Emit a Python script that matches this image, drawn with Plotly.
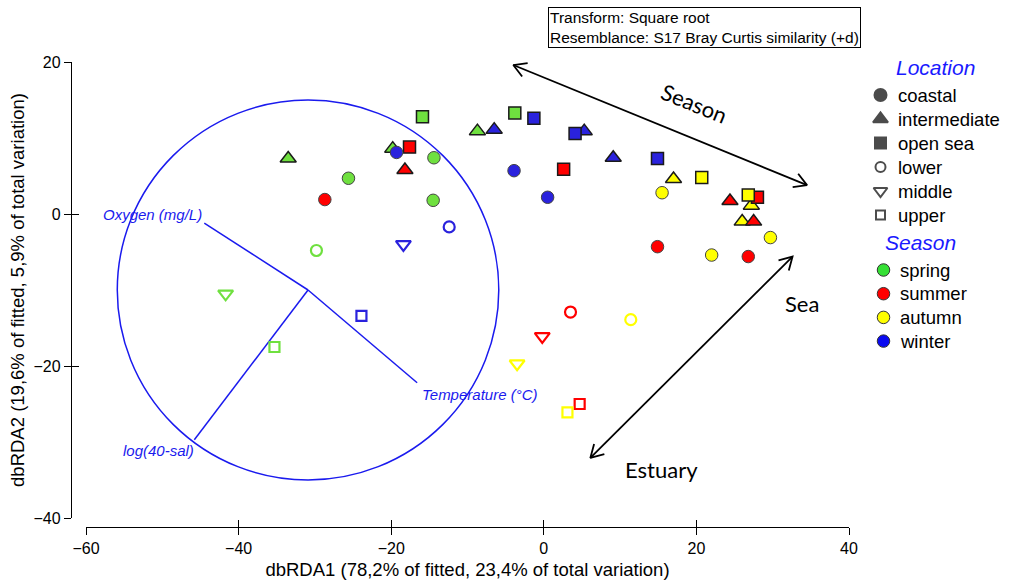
import math
import plotly.graph_objects as go

# ---------------- data ----------------
season_colors = {"spring": "#6FE03F", "summer": "#FF0000", "autumn": "#FFFF00", "winter": "#2A22DD"}
legend_season_colors = {"spring": "#35E035", "summer": "#FF0000", "autumn": "#FFFF00", "winter": "#0A0AF0"}

# intermediate (filled triangles)
inter_x = [-33.5, -19.8, -18.2, -8.7, -6.5, 5.3, 9.1, 17.0, 24.4, 26.0, 27.5, 27.2]
inter_y = [7.3, 8.6, 5.8, 10.9, 11.1, 10.9, 7.4, 4.6, 1.7, -1.0, -1.0, 1.1]
inter_s = ["spring", "spring", "summer", "spring", "winter", "winter", "winter", "autumn",
           "summer", "autumn", "summer", "autumn"]

# open sea (filled squares)
opensea_x = [-15.9, -3.8, -1.3, -17.6, 4.1, 14.9, 2.6, 20.7, 28.0, 26.8]
opensea_y = [12.8, 13.3, 12.6, 8.8, 10.6, 7.3, 5.9, 4.8, 2.2, 2.5]
opensea_s = ["spring", "spring", "winter", "summer", "winter", "winter", "summer", "autumn",
             "summer", "autumn"]

# coastal (filled circles)
coastal_x = [-25.6, -14.4, -28.7, -14.5, -19.3, -3.9, 0.5, 15.5, 14.9, 22.0, 26.8, 29.7]
coastal_y = [4.7, 7.4, 1.9, 1.8, 8.1, 5.7, 2.2, 2.8, -4.3, -5.4, -5.6, -3.1]
coastal_s = ["spring", "spring", "summer", "spring", "winter", "winter", "winter", "autumn",
             "summer", "autumn", "summer", "autumn"]

# lower (open circles)
lower_x = [-29.8, -12.4, 3.5, 11.4]
lower_y = [-4.8, -1.7, -12.9, -13.9]
lower_s = ["spring", "winter", "summer", "autumn"]

# middle (open down triangles)
middle_x = [-41.7, -18.4, -0.2, -3.5]
middle_y = [-10.5, -4.0, -16.1, -19.7]
middle_s = ["spring", "winter", "summer", "autumn"]

# upper (open squares)
upper_x = [-35.3, -23.9, 4.7, 3.1]
upper_y = [-17.5, -13.4, -25.0, -26.1]
upper_s = ["spring", "winter", "summer", "autumn"]

# environmental vectors (dbRDA overlay)
vector_origin = (-30.9, -10.0)
circle_radius = 25.0
vector_names = ["Oxygen (mg/L)", "Temperature (°C)", "log(40-sal)"]
vector_end_x = [-44.5, -16.6, -45.8]
vector_end_y = [-1.2, -22.2, -29.7]
vector_label_x = [-44.6, -16.2, -45.6]
vector_label_y = [-0.1, -23.8, -31.1]
vector_label_anchor = ["right", "left", "right"]

# interpretation arrows
season_arrow = [(-4.0, 19.6), (34.5, 3.8)]
estuary_arrow = [(6.1, -32.1), (32.6, -5.6)]
arrow_labels = ["Season", "Sea", "Estuary"]
arrow_label_x = [19.8, 33.8, 15.4]
arrow_label_y = [14.6, -11.75, -33.6]
arrow_label_angle = [22, 0, 0]

x_ticks = [-60, -40, -20, 0, 20, 40]
y_ticks = [-40, -20, 0, 20]

location_names = ["coastal", "intermediate", "open sea", "lower", "middle", "upper"]
season_names = ["spring", "summer", "autumn", "winter"]

# ---------------- figure ----------------
W, H = 1014, 584
ML, MR, MT, MB = 71, 10, 5, 57
PW, PH = W - ML - MR, H - MT - MB
X0PX, X1PX = 86, 849
Y0PX, Y1PX = 518, 62
xdom = [(X0PX - ML) / PW, (X1PX - ML) / PW]
ydom = [(H - MB - Y0PX) / PH, (H - MB - Y1PX) / PH]

BLUE = "#1A1AEE"
FONT = "Liberation Sans, Arial"
fig = go.Figure()

# vector lines
vx, vy = [], []
for ex, ey in zip(vector_end_x, vector_end_y):
    vx += [vector_origin[0], ex, None]
    vy += [vector_origin[1], ey, None]
fig.add_trace(go.Scatter(x=vx, y=vy, mode="lines", line=dict(color=BLUE, width=1.5),
                         hoverinfo="skip", showlegend=False))


def double_arrow(p0, p1, arm=1.9, ang=30):
    xs = [p0[0], p1[0], None]
    ys = [p0[1], p1[1], None]
    for tip, tail in ((p0, p1), (p1, p0)):
        dx, dy = tail[0] - tip[0], tail[1] - tip[1]
        L = math.hypot(dx, dy)
        ux, uy = dx / L, dy / L
        pts = []
        for s in (1, -1):
            a = math.radians(ang * s)
            rx = ux * math.cos(a) - uy * math.sin(a)
            ry = ux * math.sin(a) + uy * math.cos(a)
            pts.append((tip[0] + arm * rx, tip[1] + arm * ry))
        xs += [pts[0][0], tip[0], pts[1][0], None]
        ys += [pts[0][1], tip[1], pts[1][1], None]
    return xs, ys


for arr in (season_arrow, estuary_arrow):
    ax_, ay_ = double_arrow(arr[0], arr[1])
    fig.add_trace(go.Scatter(x=ax_, y=ay_, mode="lines", line=dict(color="black", width=1.8),
                             hoverinfo="skip", showlegend=False))

# sample points
filled = [
    (inter_x, inter_y, inter_s, "triangle-up", 14, "#1A1A1A", 1.5),
    (opensea_x, opensea_y, opensea_s, "square", 12, "#1A1A1A", 1.5),
    (coastal_x, coastal_y, coastal_s, "circle", 12.5, "#444444", 1),
]
for xs, ys, ss, sym, size, lc, lw in filled:
    fig.add_trace(go.Scatter(
        x=xs, y=ys, mode="markers", showlegend=False, cliponaxis=False,
        marker=dict(symbol=sym, size=size, color=[season_colors[s] for s in ss],
                    line=dict(color=lc, width=lw))))

opened = [
    (lower_x, lower_y, lower_s, "circle-open", 11),
    (middle_x, middle_y, middle_s, "triangle-down-open", 13),
    (upper_x, upper_y, upper_s, "square-open", 10),
]
for xs, ys, ss, sym, size in opened:
    fig.add_trace(go.Scatter(
        x=xs, y=ys, mode="markers", showlegend=False, cliponaxis=False,
        marker=dict(symbol=sym, size=size, color=[season_colors[s] for s in ss],
                    line=dict(width=2.2))))

# invisible traces for the inner-tick overlay axes
fig.add_trace(go.Scatter(x=[None], y=[None], xaxis="x2", yaxis="y", showlegend=False, hoverinfo="skip"))
fig.add_trace(go.Scatter(x=[None], y=[None], xaxis="x", yaxis="y2", showlegend=False, hoverinfo="skip"))

# ---------------- custom legend (helper axes in pixel units) ----------------
loc_symbols = ["circle", "triangle-up", "square", "circle-open", "triangle-down-open", "square-open"]
loc_sizes = [12, 13, 11, 10, 12, 9]
loc_y = [95 + 24 * i for i in range(len(location_names))]
fig.add_trace(go.Scatter(
    x=[880.5] * len(location_names), y=loc_y, xaxis="x3", yaxis="y3", mode="markers",
    showlegend=False, hoverinfo="skip", cliponaxis=False,
    marker=dict(symbol=loc_symbols, size=loc_sizes, color="black", line=dict(color="black", width=2))))
sea_y = [270 + 23.7 * i for i in range(len(season_names))]
fig.add_trace(go.Scatter(
    x=[883.5] * len(season_names), y=sea_y, xaxis="x3", yaxis="y3", mode="markers",
    showlegend=False, hoverinfo="skip", cliponaxis=False,
    marker=dict(symbol="circle", size=12.5, color=[legend_season_colors[s] for s in season_names],
                line=dict(color="#333333", width=1))))

annotations = []
for name, yy in zip(location_names, loc_y):
    annotations.append(dict(x=896, y=yy, xref="x3", yref="y3", text=name, showarrow=False,
                            xanchor="left", yanchor="middle",
                            font=dict(size=18.5, color="black", family=FONT)))
for name, yy in zip(season_names, sea_y):
    annotations.append(dict(x=898, y=yy, xref="x3", yref="y3", text=name, showarrow=False,
                            xanchor="left", yanchor="middle",
                            font=dict(size=18.5, color="black", family=FONT)))
annotations.append(dict(x=935.5, y=67, xref="x3", yref="y3", text="Location", showarrow=False,
                        xanchor="center", yanchor="middle",
                        font=dict(size=21, color="#1A1AFF", family=FONT, style="italic")))
annotations.append(dict(x=920, y=242, xref="x3", yref="y3", text="Season", showarrow=False,
                        xanchor="center", yanchor="middle",
                        font=dict(size=21, color="#1A1AFF", family=FONT, style="italic")))

# vector labels
for name, lx, ly, anc in zip(vector_names, vector_label_x, vector_label_y, vector_label_anchor):
    annotations.append(dict(x=lx, y=ly, xref="x", yref="y", text=name, showarrow=False,
                            xanchor=anc, yanchor="middle",
                            font=dict(size=15, color=BLUE, family=FONT, style="italic")))

# arrow labels
for name, lx, ly, ang in zip(arrow_labels, arrow_label_x, arrow_label_y, arrow_label_angle):
    annotations.append(dict(x=lx, y=ly, xref="x", yref="y", text=name, showarrow=False,
                            textangle=ang, xanchor="center", yanchor="middle",
                            font=dict(size=22, color="black", family="Lato, Open Sans, sans-serif")))

# info box
annotations.append(dict(x=(548 - ML) / PW, y=(H - MB - 7) / PH, xref="paper", yref="paper",
                        text="Transform: Square root<br>Resemblance: S17 Bray Curtis similarity (+d)",
                        showarrow=False, xanchor="left", yanchor="top", align="left",
                        bordercolor="black", borderwidth=1, borderpad=1, bgcolor="white",
                        font=dict(size=15.5, color="black", family=FONT)))

shapes = [dict(type="circle", xref="x", yref="y",
               x0=vector_origin[0] - circle_radius, x1=vector_origin[0] + circle_radius,
               y0=vector_origin[1] - circle_radius, y1=vector_origin[1] + circle_radius,
               line=dict(color=BLUE, width=1.5), layer="below")]

axis_common = dict(showgrid=False, zeroline=False, ticks="outside", ticklen=7, tickwidth=1.3,
                   tickcolor="black", showline=True, linecolor="black", linewidth=1.3,
                   automargin=False,
                   tickfont=dict(size=16, color="black", family=FONT))

fig.update_layout(
    width=W, height=H, margin=dict(l=ML, r=MR, t=MT, b=MB, autoexpand=False),
    plot_bgcolor="white", paper_bgcolor="white", showlegend=False,
    font=dict(family=FONT, size=16, color="black"),
    xaxis=dict(domain=xdom, range=[-60, 40], tickvals=x_ticks, anchor="free", position=0,
               title=dict(text="dbRDA1 (78,2% of fitted, 23,4% of total variation)",
                          font=dict(size=18.5), standoff=6),
               **axis_common),
    yaxis=dict(domain=ydom, range=[-40, 20], tickvals=y_ticks, anchor="free", position=0,
               title=dict(text="dbRDA2 (19,6% of fitted, 5,9% of total variation)",
                          font=dict(size=18.5), standoff=3),
               **axis_common),
    xaxis2=dict(domain=xdom, range=[-60, 40], tickvals=x_ticks, overlaying="x", anchor="free",
                position=0, ticks="inside", ticklen=7, tickwidth=1.3, tickcolor="black",
                showticklabels=False, showgrid=False, zeroline=False, showline=False, automargin=False),
    yaxis2=dict(domain=ydom, range=[-40, 20], tickvals=y_ticks, overlaying="y", anchor="free",
                position=0, ticks="inside", ticklen=7, tickwidth=1.3, tickcolor="black",
                showticklabels=False, showgrid=False, zeroline=False, showline=False, automargin=False),
    xaxis3=dict(domain=[(860 - ML) / PW, 1], range=[860, W - MR], visible=False, anchor="y3",
                automargin=False),
    yaxis3=dict(domain=[0, 1], range=[H - MB, MT], visible=False, anchor="x3", automargin=False),
    annotations=annotations, shapes=shapes,
)

fig.write_html("out.html")
